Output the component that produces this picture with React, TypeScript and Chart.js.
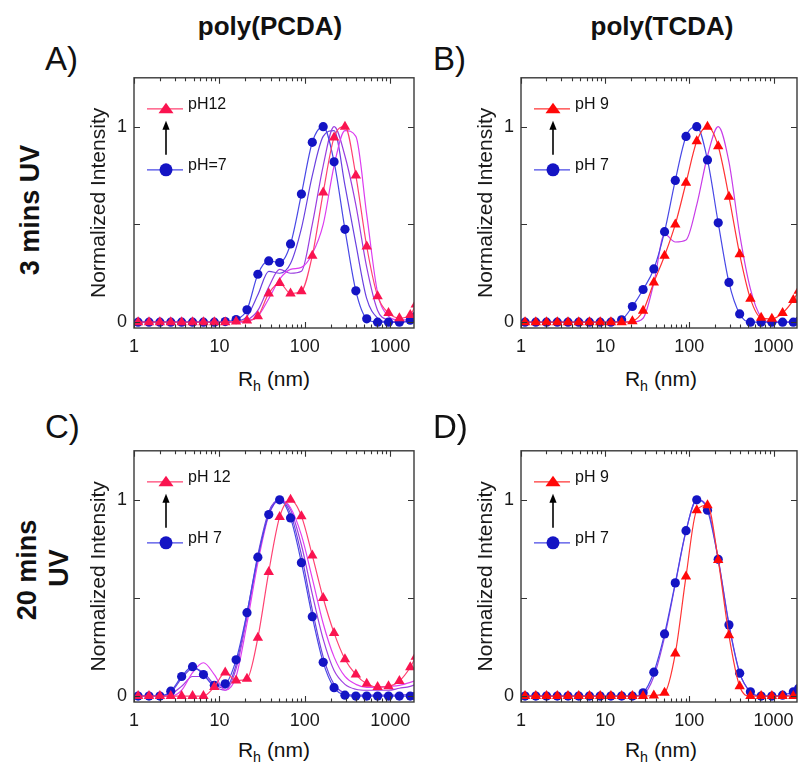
import React, { useEffect, useRef } from 'react';
import { Chart, registerables } from 'chart.js';

Chart.register(...registerables);

const FONT = 'Arial, "Liberation Sans", Helvetica, sans-serif';

// DLS size bins (nm) at which the curves are sampled (every other Malvern bin)
const sizeBins = [1.117, 1.499, 2.01, 2.696, 3.615, 4.849, 6.503, 8.721, 11.7, 15.69, 21.04, 28.21, 37.84, 50.75, 68.06, 91.28, 122.4, 164.2, 220.2, 295.3, 396.1, 531.2, 712.4, 955.4, 1281, 1718, 1990];
const xTickValues = [1, 10, 100, 1000];
const yTickValues = [0, 0.5, 1];

// Panel A: poly(PCDA), 3 mins UV
const aPH7 = [0, 0, 0, 0, 0, 0, 0, 0, 0.003, 0.013, 0.063, 0.245, 0.313, 0.305, 0.40, 0.655, 0.92, 1.0, 0.82, 0.475, 0.16, 0.017, 0, 0, 0, 0.01, 0.03];
const aMid1 = [0, 0, 0, 0, 0, 0, 0, 0, 0, 0.005, 0.03, 0.14, 0.26, 0.25, 0.3, 0.48, 0.75, 0.95, 0.98, 0.7, 0.4, 0.12, 0.02, 0, 0, 0.01, 0.03];
const aMid2 = [0, 0, 0, 0, 0, 0, 0, 0, 0, 0, 0.01, 0.06, 0.18, 0.27, 0.25, 0.26, 0.5, 0.8, 1.0, 0.85, 0.6, 0.28, 0.06, 0.01, 0, 0.01, 0.03];
const aMid3 = [0, 0, 0, 0, 0, 0, 0, 0, 0, 0, 0.005, 0.03, 0.12, 0.22, 0.27, 0.28, 0.35, 0.5, 0.8, 0.98, 0.95, 0.55, 0.15, 0.03, 0.01, 0.02, 0.06];
const aPH12 = [0, 0, 0, 0, 0, 0, 0, 0, 0, 0.003, 0.008, 0.03, 0.147, 0.2, 0.147, 0.158, 0.34, 0.663, 0.945, 1.0, 0.75, 0.387, 0.133, 0.047, 0.02, 0.037, 0.09];

// Panel B: poly(TCDA), 3 mins UV
const bPH7 = [0, 0, 0, 0, 0, 0, 0, 0, 0, 0.012, 0.08, 0.167, 0.272, 0.463, 0.725, 0.95, 1.0, 0.83, 0.508, 0.203, 0.042, 0, 0, 0, 0, 0, 0.005];
const bMid = [0, 0, 0, 0, 0, 0, 0, 0, 0, 0, 0, 0.02, 0.2, 0.45, 0.41, 0.42, 0.6, 0.85, 1.0, 0.82, 0.45, 0.17, 0.025, 0, 0, 0.005, 0.03];
const bPH9 = [0, 0, 0, 0, 0, 0, 0, 0, 0, 0, 0.005, 0.058, 0.203, 0.34, 0.5, 0.713, 0.925, 1.0, 0.9, 0.642, 0.347, 0.12, 0.022, 0.017, 0.047, 0.113, 0.16];

// Panel C: poly(PCDA), 20 mins UV
const cPH7 = [0, 0, 0, 0.025, 0.1, 0.15, 0.11, 0.055, 0.063, 0.185, 0.425, 0.708, 0.925, 1.0, 0.908, 0.68, 0.405, 0.172, 0.043, 0.005, 0, 0, 0, 0, 0, 0, 0];
const cMid1 = [0, 0, 0, 0.02, 0.09, 0.14, 0.12, 0.06, 0.04, 0.16, 0.42, 0.72, 0.94, 1.0, 0.93, 0.72, 0.44, 0.2, 0.06, 0.015, 0.005, 0.005, 0.005, 0.005, 0.005, 0.01, 0.015];
const cMid2 = [0, 0, 0, 0.01, 0.05, 0.1, 0.1, 0.05, 0.03, 0.14, 0.4, 0.7, 0.93, 1.0, 0.95, 0.77, 0.52, 0.29, 0.13, 0.06, 0.035, 0.03, 0.03, 0.03, 0.04, 0.05, 0.06];
const cMid3 = [0, 0, 0, 0, 0.03, 0.12, 0.17, 0.11, 0.03, 0.1, 0.37, 0.68, 0.92, 1.0, 0.96, 0.82, 0.6, 0.37, 0.2, 0.1, 0.06, 0.045, 0.045, 0.05, 0.055, 0.07, 0.08];
const cPH12 = [0, 0, 0, 0, 0, 0, 0, 0.047, 0.12, 0.08, 0.088, 0.297, 0.633, 0.913, 1.0, 0.917, 0.717, 0.5, 0.322, 0.188, 0.11, 0.063, 0.047, 0.05, 0.077, 0.147, 0.2];

// Panel D: poly(TCDA), 20 mins UV
const dPH7 = [0, 0, 0, 0, 0, 0, 0, 0, 0, 0, 0, 0.017, 0.122, 0.317, 0.577, 0.843, 1.0, 0.947, 0.697, 0.363, 0.117, 0.022, 0, 0, 0.005, 0.022, 0.04];
const dMid = [0, 0, 0, 0, 0, 0, 0, 0, 0, 0, 0, 0.008, 0.1, 0.3, 0.57, 0.84, 1.0, 0.96, 0.7, 0.37, 0.12, 0.02, 0, 0, 0, 0.01, 0.02];
const dPH9 = [0, 0, 0, 0, 0, 0, 0, 0, 0, 0, 0, 0, 0.003, 0.017, 0.217, 0.61, 0.947, 0.972, 0.693, 0.31, 0.05, 0, 0, 0, 0, 0, 0];

const legendA = ['pH12', 'pH=7'];
const legendB = ['pH 9', 'pH 7'];
const legendC = ['pH 12', 'pH 7'];
const legendD = ['pH 9', 'pH 7'];

const BLUE = '#1414c4';
const BLUE_LINE = '#4848e6';
const PINK = '#fa1450';
const PINK_LINE = '#ff4272';
const RED = '#ff0808';
const RED_LINE = '#ff3434';

const tri = (label, values, marker, line) => ({ label, values, marker, line, style: 'triangle' });
const dot = (label, values, marker, line) => ({ label, values, marker, line, style: 'circle' });
const plain = (label, values, line) => ({ label, values, marker: line, line, style: null });

const panels = [
  {
    key: 'A', left: 80, top: 60, width: 345, height: 300, padRight: 11, xAxisH: 32, xMax: 1900,
    legend: legendA, topColor: PINK, topLine: PINK_LINE,
    series: [
      tri('pH12', aPH12, PINK, PINK_LINE),
      dot('pH=7', aPH7, BLUE, BLUE_LINE),
      plain('mid 3', aMid3, '#dc3cf0'),
      plain('mid 2', aMid2, '#9a3ee0'),
      plain('mid 1', aMid1, '#6a40e0'),
    ],
  },
  {
    key: 'B', left: 467, top: 60, width: 336, height: 300, padRight: 2, xAxisH: 32, xMax: 1900,
    legend: legendB, topColor: RED, topLine: RED_LINE,
    series: [
      tri('pH 9', bPH9, RED, RED_LINE),
      dot('pH 7', bPH7, BLUE, BLUE_LINE),
      plain('mid', bMid, '#c83ce8'),
    ],
  },
  {
    key: 'C', left: 80, top: 433, width: 345, height: 300, padRight: 11, xAxisH: 31, xMax: 1900,
    legend: legendC, topColor: PINK, topLine: PINK_LINE,
    series: [
      tri('pH 12', cPH12, PINK, PINK_LINE),
      dot('pH 7', cPH7, BLUE, BLUE_LINE),
      plain('mid 3', cMid3, '#e040f0'),
      plain('mid 2', cMid2, '#a040e0'),
      plain('mid 1', cMid1, '#6c44dc'),
    ],
  },
  {
    key: 'D', left: 467, top: 433, width: 336, height: 300, padRight: 2, xAxisH: 31, xMax: 1900,
    legend: legendD, topColor: RED, topLine: RED_LINE,
    series: [
      tri('pH 9', dPH9, RED, RED_LINE),
      dot('pH 7', dPH7, BLUE, BLUE_LINE),
      plain('mid', dMid, '#9c44e4'),
    ],
  },
];

const decoPlugin = {
  id: 'frameDeco',
  afterDraw(chart, _args, opts) {
    const ctx = chart.ctx;
    const { left, right, top, bottom } = chart.chartArea;
    const xs = chart.scales.x;
    const ys = chart.scales.y;
    ctx.save();
    // ticks (inward, mirrored)
    ctx.strokeStyle = '#333';
    ctx.lineWidth = 1.1;
    ctx.beginPath();
    for (let d = 1; d <= 1000; d *= 10) {
      for (let m = 1; m <= 9; m++) {
        const v = d * m;
        if (v < xs.min || v > xs.max) continue;
        const px = Math.round(xs.getPixelForValue(v)) + 0.5;
        const len = m === 1 ? 6 : 3.5;
        ctx.moveTo(px, bottom);
        ctx.lineTo(px, bottom - len);
        ctx.moveTo(px, top);
        ctx.lineTo(px, top + len);
      }
    }
    for (const v of yTickValues) {
      const py = Math.round(ys.getPixelForValue(v)) + 0.5;
      ctx.moveTo(left, py);
      ctx.lineTo(left + 6, py);
      ctx.moveTo(right, py);
      ctx.lineTo(right - 6, py);
    }
    ctx.stroke();
    // frame
    ctx.lineWidth = 1.4;
    ctx.strokeStyle = '#3a3a3a';
    ctx.strokeRect(left, top, right - left, bottom - top);

    // legend symbols
    const cx = left + 32;
    const yT = top + 31;
    const yB = top + 92;
    ctx.lineWidth = 1.2;
    ctx.strokeStyle = opts.topLine;
    ctx.beginPath();
    ctx.moveTo(left + 13, yT);
    ctx.lineTo(left + 49, yT);
    ctx.stroke();
    ctx.fillStyle = opts.topColor;
    ctx.beginPath();
    ctx.moveTo(cx, yT - 6);
    ctx.lineTo(cx + 7.5, yT + 4.5);
    ctx.lineTo(cx - 7.5, yT + 4.5);
    ctx.closePath();
    ctx.fill();

    ctx.strokeStyle = BLUE_LINE;
    ctx.beginPath();
    ctx.moveTo(left + 13, yB);
    ctx.lineTo(left + 49, yB);
    ctx.stroke();
    ctx.fillStyle = BLUE;
    ctx.beginPath();
    ctx.arc(cx, yB, 6.5, 0, Math.PI * 2);
    ctx.fill();

    // arrow
    ctx.strokeStyle = '#000';
    ctx.fillStyle = '#000';
    ctx.lineWidth = 1.6;
    ctx.beginPath();
    ctx.moveTo(cx, top + 77);
    ctx.lineTo(cx, top + 50);
    ctx.stroke();
    ctx.beginPath();
    ctx.moveTo(cx, top + 43);
    ctx.lineTo(cx + 3.6, top + 52);
    ctx.lineTo(cx - 3.6, top + 52);
    ctx.closePath();
    ctx.fill();
    ctx.restore();
  },
};

function Panel({ p }) {
  const ref = useRef(null);
  useEffect(() => {
    const chart = new Chart(ref.current, {
      type: 'line',
      data: {
        datasets: p.series.map((s) => ({
          label: s.label,
          data: sizeBins.map((x, i) => ({ x, y: s.values[i] })),
          borderColor: s.line,
          backgroundColor: s.marker,
          pointBackgroundColor: s.marker,
          pointBorderColor: s.marker,
          pointBorderWidth: 0,
          pointStyle: s.style || 'circle',
          pointRadius: s.style === 'triangle' ? 6 : s.style === 'circle' ? 4.6 : 0,
          borderWidth: 1.2,
          cubicInterpolationMode: 'monotone',
          fill: false,
        })),
      },
      options: {
        responsive: false,
        animation: false,
        devicePixelRatio: 1,
        events: [],
        layout: { padding: { top: 13, right: p.padRight, left: 0, bottom: 0 } },
        plugins: {
          legend: { display: false },
          tooltip: { enabled: false },
          frameDeco: { topColor: p.topColor, topLine: p.topLine },
        },
        scales: {
          x: {
            type: 'logarithmic',
            min: 1,
            max: p.xMax,
            grid: { display: false, drawTicks: false },
            border: { display: false },
            afterBuildTicks: (s) => {
              s.ticks = xTickValues.map((v) => ({ value: v }));
            },
            afterFit: (s) => {
              s.height = p.xAxisH;
            },
            ticks: {
              callback: (v) => String(v),
              autoSkip: false,
              maxRotation: 0,
              padding: 8,
              color: '#1a1a1a',
              font: { size: 18, family: FONT },
            },
          },
          y: {
            type: 'linear',
            min: -0.03,
            max: 1.25,
            grid: { display: false, drawTicks: false },
            border: { display: false },
            afterBuildTicks: (s) => {
              s.ticks = yTickValues.map((v) => ({ value: v }));
            },
            afterFit: (s) => {
              s.width = 54;
            },
            ticks: {
              callback: (v) => (v === 0 || v === 1 ? String(v) : ''),
              padding: 7,
              color: '#1a1a1a',
              font: { size: 18, family: FONT },
            },
            title: {
              display: true,
              text: 'Normalized Intensity',
              color: '#1a1a1a',
              font: { size: 21, family: FONT },
              padding: { top: 7, bottom: 0 },
            },
          },
        },
      },
      plugins: [decoPlugin],
    });
    return () => chart.destroy();
  }, [p]);
  return (
    <canvas
      ref={ref}
      width={p.width}
      height={p.height}
      style={{ position: 'absolute', left: p.left, top: p.top, width: p.width, height: p.height }}
    />
  );
}

function Txt({ x, baseline, size, bold = false, align = 'left', children }) {
  const top = baseline - 0.8465 * size;
  const style: any = {
    position: 'absolute',
    top,
    fontSize: size,
    lineHeight: `${size}px`,
    fontWeight: bold ? 'bold' : 'normal',
    whiteSpace: 'nowrap',
    color: '#111',
  };
  if (align === 'center') {
    style.left = x - 200;
    style.width = 400;
    style.textAlign = 'center';
  } else {
    style.left = x;
  }
  return <div style={style}>{children}</div>;
}

function VTxt({ cx, cy, size, children }) {
  return (
    <div
      style={{
        position: 'absolute',
        left: cx,
        top: cy,
        fontSize: size,
        lineHeight: `${size}px`,
        fontWeight: 'bold',
        whiteSpace: 'nowrap',
        color: '#111',
        transform: 'translate(-50%, -50%) rotate(-90deg)',
      }}
    >
      {children}
    </div>
  );
}

function XTitle({ cx, baseline }) {
  return (
    <Txt x={cx} baseline={baseline} size={21} align="center">
      R<span style={{ fontSize: '0.68em', position: 'relative', top: '0.32em' }}>h</span> (nm)
    </Txt>
  );
}

export default function App() {
  return (
    <div
      style={{
        position: 'absolute',
        left: 0,
        top: 0,
        width: 803,
        height: 767,
        background: '#fff',
        fontFamily: FONT,
        overflow: 'hidden',
      }}
    >
      {panels.map((p) => (
        <Panel key={p.key} p={p} />
      ))}

      <Txt x={270} baseline={35} size={26} bold align="center">poly(PCDA)</Txt>
      <Txt x={662} baseline={35} size={26} bold align="center">poly(TCDA)</Txt>

      <Txt x={45} baseline={70} size={33}>A)</Txt>
      <Txt x={433} baseline={70} size={33}>B)</Txt>
      <Txt x={45} baseline={438} size={33}>C)</Txt>
      <Txt x={433} baseline={438} size={33}>D)</Txt>

      <VTxt cx={30} cy={210} size={27}>3 mins UV</VTxt>
      <VTxt cx={27} cy={570} size={27}>20 mins</VTxt>
      <VTxt cx={59} cy={568} size={27}>UV</VTxt>

      <Txt x={188} baseline={109.5} size={16}>{legendA[0]}</Txt>
      <Txt x={188} baseline={170.5} size={16}>{legendA[1]}</Txt>
      <Txt x={575} baseline={109.5} size={16}>{legendB[0]}</Txt>
      <Txt x={575} baseline={170.5} size={16}>{legendB[1]}</Txt>
      <Txt x={188} baseline={482.5} size={16}>{legendC[0]}</Txt>
      <Txt x={188} baseline={543.5} size={16}>{legendC[1]}</Txt>
      <Txt x={575} baseline={482.5} size={16}>{legendD[0]}</Txt>
      <Txt x={575} baseline={543.5} size={16}>{legendD[1]}</Txt>

      <XTitle cx={274} baseline={386} />
      <XTitle cx={661} baseline={386} />
      <XTitle cx={274} baseline={757} />
      <XTitle cx={661} baseline={757} />
    </div>
  );
}
